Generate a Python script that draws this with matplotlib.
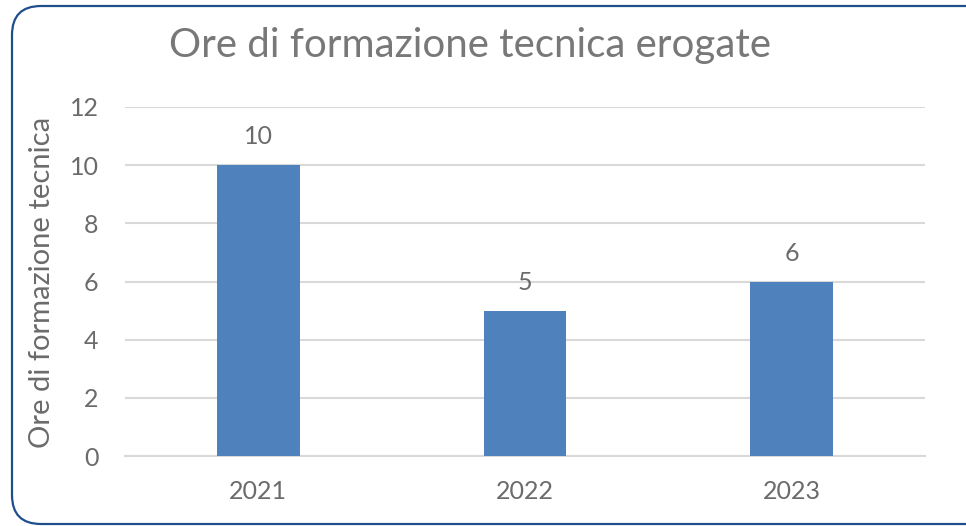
import matplotlib.pyplot as plt
from matplotlib.patches import FancyBboxPatch

anni = ["2021", "2022", "2023"]
ore = [10, 5, 6]
y_ticks = [0, 2, 4, 6, 8, 10, 12]

GRIGIO = "#6B6B6B"
GRIGIO_TITOLO = "#787878"
BLU = "#4F81BD"

plt.rcParams["font.family"] = ["Lato", "DejaVu Sans"]

W, H = 966, 526
fig = plt.figure(figsize=(W / 100, H / 100), dpi=100)
ax = fig.add_axes([125 / W, 70 / H, 800 / W, 349 / H])

# Cornice arrotondata (esce a destra)
cornice = FancyBboxPatch(
    (12 / W, 2 / H), 1.2, 518 / H,
    boxstyle="round,pad=0,rounding_size=0.03",
    transform=fig.transFigure, fill=False,
    edgecolor="#1F4E8C", linewidth=1.6, mutation_aspect=W / H,
)
fig.patches.append(cornice)

x = range(len(anni))
ax.bar(x, ore, width=0.31, color=BLU, zorder=3)

for xi, v in zip(x, ore):
    ax.annotate(str(v), xy=(xi, v), xytext=(0, 12), textcoords="offset points",
                ha="center", va="bottom", fontsize=18, color=GRIGIO)

ax.set_xlim(-0.5, len(anni) - 0.5)
ax.set_ylim(0, 12)
ax.set_yticks(y_ticks)
ax.set_xticks(list(x))
ax.set_xticklabels(anni)
ax.tick_params(axis="both", length=0, labelsize=18, labelcolor=GRIGIO)
ax.tick_params(axis="y", pad=19)
ax.tick_params(axis="x", pad=17)

ax.grid(True, axis="y", color="#D9D9D9", linewidth=1.5, zorder=0)
for side in ["top", "right", "left"]:
    ax.spines[side].set_visible(False)
ax.spines["bottom"].set_color("#D9D9D9")
ax.spines["bottom"].set_linewidth(1.5)

fig.text(42 / W, 1 - 282 / H, "Ore di formazione tecnica", rotation=90,
         ha="center", va="center", fontsize=21, color=GRIGIO)
fig.text(470 / W, 1 - 45 / H, "Ore di formazione tecnica erogate",
         ha="center", va="center", fontsize=29, color=GRIGIO_TITOLO)

fig.savefig("out.png", dpi=100)
